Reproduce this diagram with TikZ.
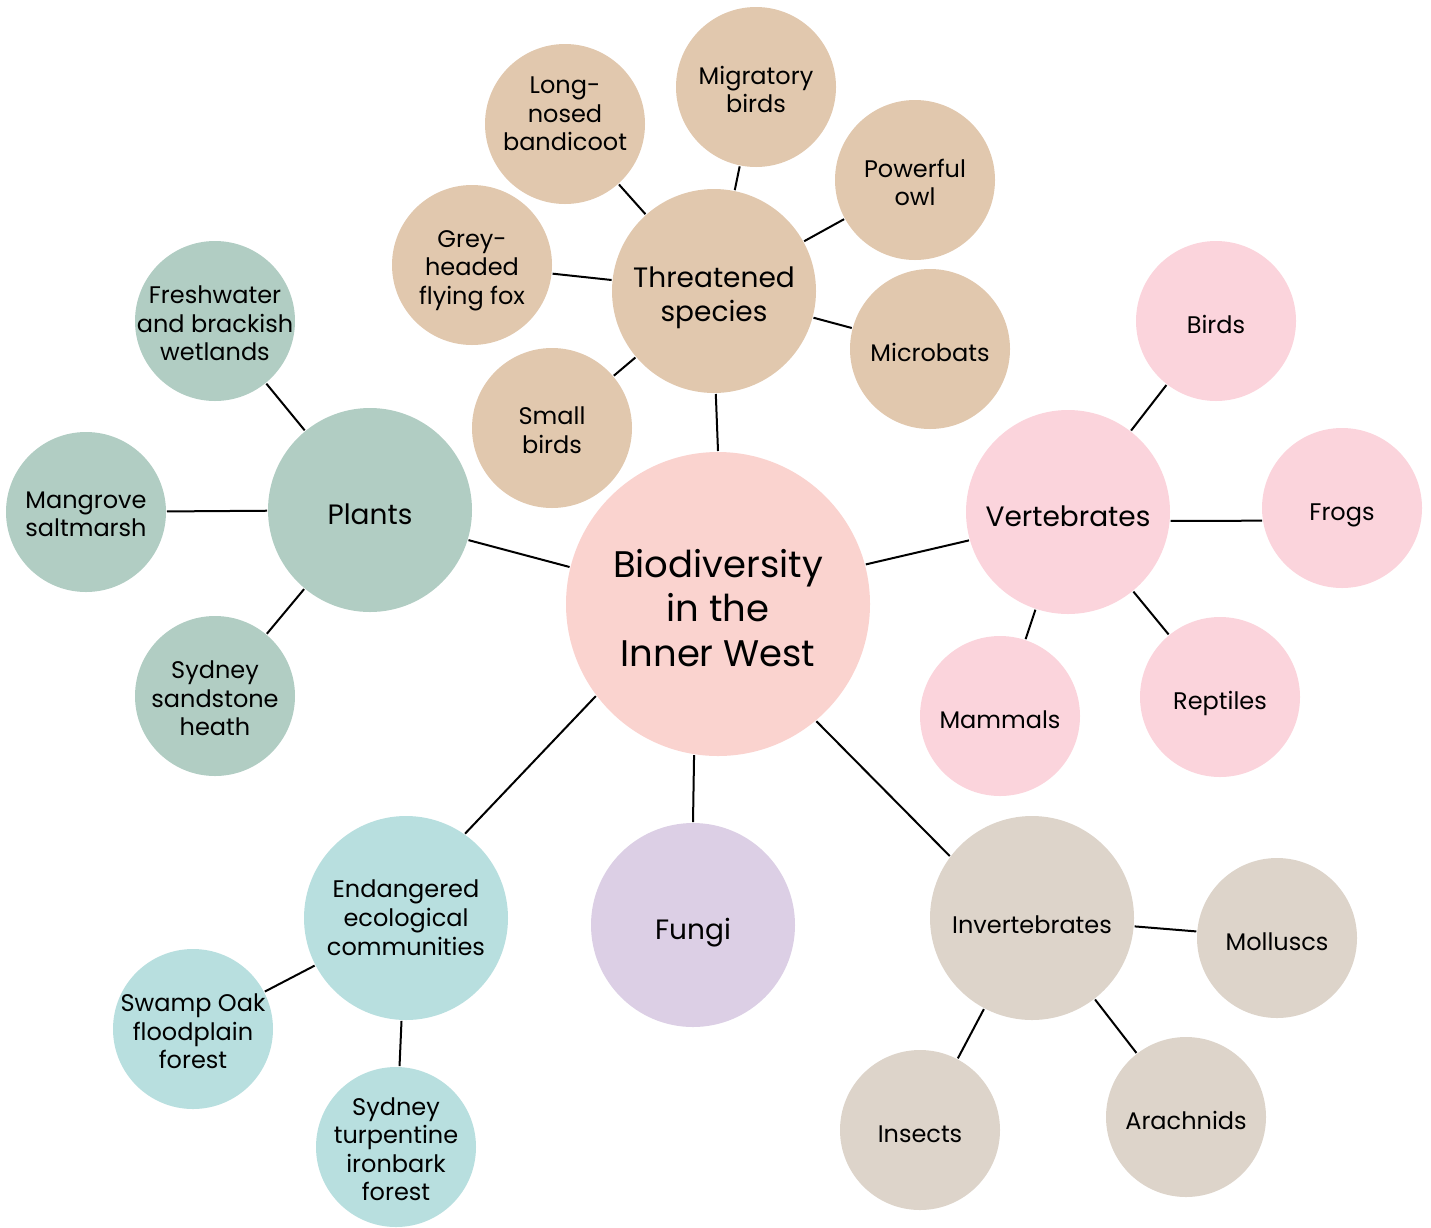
\documentclass[tikz,border=0pt]{standalone}
\usepackage{fontspec}
\setmainfont{Poppins}
\definecolor{centrepink}{HTML}{FAD3CF}
\definecolor{sand}{HTML}{E1C8AE}
\definecolor{sage}{HTML}{B1CDC3}
\definecolor{rosepink}{HTML}{FBD4DC}
\definecolor{stone}{HTML}{DDD4CA}
\definecolor{aqua}{HTML}{B8DFDF}
\definecolor{lilac}{HTML}{DCCFE5}
\begin{document}
\begin{tikzpicture}[x=1pt, y=-1pt, line width=2pt,
    bubble/.style={circle, inner sep=0pt},
    words/.style={align=center, text=black, inner sep=0pt,
        execute at begin node=\strut, execute at end node=\strut},
    leaf/.style={bubble, minimum size=160pt},
    leaftext/.style={words, font=\fontsize{24}{28.5}\selectfont, yshift=-6.5pt},
    hub/.style={bubble, minimum size=204pt},
    hubtext/.style={words, font=\fontsize{28}{34}\selectfont, yshift=-8pt},
    subtext/.style={words, font=\fontsize{24}{29}\selectfont}]
    \useasboundingbox (0,0) rectangle (1431,1227);

    % centre
    \node[bubble, minimum size=304pt, fill=centrepink,
        label={[words, font=\fontsize{37}{44.5}\selectfont, yshift=-10.5pt]center:{Biodiversity\\in the\\Inner West}}] (bio) at (718,604) {};

    % hubs
    \node[hub, fill=sand, label={[hubtext]center:{Threatened\\species}}] (threat) at (714,291) {};
    \node[hub, fill=sage, label={[hubtext]center:Plants}] (plants) at (370,510) {};
    \node[hub, fill=rosepink, label={[hubtext]center:Vertebrates}] (vert) at (1068,512) {};
    \node[hub, fill=stone, label={[subtext, yshift=-9.5pt]center:Invertebrates}] (invert) at (1032,918) {};
    \node[hub, fill=aqua, label={[subtext, yshift=-3.5pt]center:{Endangered\\ecological\\communities}}] (eec) at (406,918) {};
    \node[hub, fill=lilac, label={[hubtext]center:Fungi}] (fungi) at (693,925) {};

    \foreach \a/\h/\b in {90/threat/271, 166/plants/343, 15/vert/196,
        310/invert/143, 217/eec/55, 261/fungi/90}
    {
        \draw (bio.\a) -- (\h.\b);
    }

    % threatened species
    \node[leaf, fill=sand, label={[leaftext, yshift=12.5pt]center:{Long-\\nosed\\bandicoot}}] (bandicoot) at (565,124) {};
    \draw (threat) -- (bandicoot);
    \foreach \n/\x/\y/\t in {migratory/756/87/{Migratory\\birds},
        owl/915/180/{Powerful\\owl}, flyingfox/472/265/{Grey-\\headed\\flying fox},
        microbats/930/349/{Microbats}, smallbirds/552/428/{Small\\birds}}
    {
        \node[leaf, fill=sand, label={[leaftext]center:\t}] (\n) at (\x,\y) {};
        \draw (threat) -- (\n);
    }

    % plants
    \foreach \n/\x/\y/\t in {wetlands/215/321/{Freshwater\\and brackish\\wetlands}, mangrove/86/512/{Mangrove\\saltmarsh},
        heath/215/696/{Sydney\\sandstone\\heath}}
    {
        \node[leaf, fill=sage, label={[leaftext]center:\t}] (\n) at (\x,\y) {};
        \draw (plants) -- (\n);
    }

    % vertebrates
    \node[leaf, fill=rosepink, label={[leaftext]center:Frogs}] (frogs) at (1342,508) {};
    \draw (vert.355) -- (frogs.189);
    \foreach \n/\x/\y/\t in {birds/1216/321/{Birds},
        reptiles/1220/697/{Reptiles}, mammals/1000/716/{Mammals}}
    {
        \node[leaf, fill=rosepink, label={[leaftext]center:\t}] (\n) at (\x,\y) {};
        \draw (vert) -- (\n);
    }

    % invertebrates
    \foreach \n/\x/\y/\t in {molluscs/1277/938/{Molluscs}, arachnids/1186/1117/{Arachnids},
        insects/920/1130/{Insects}}
    {
        \node[leaf, fill=stone, label={[leaftext]center:\t}] (\n) at (\x,\y) {};
        \draw (invert) -- (\n);
    }

    % endangered ecological communities
    \foreach \n/\x/\y/\t in {swampoak/193/1029/{Swamp Oak\\floodplain\\forest}, turpentine/396/1147/{Sydney\\turpentine\\ironbark\\forest}}
    {
        \node[leaf, fill=aqua, label={[leaftext]center:\t}] (\n) at (\x,\y) {};
        \draw (eec) -- (\n);
    }
\end{tikzpicture}
\end{document}
